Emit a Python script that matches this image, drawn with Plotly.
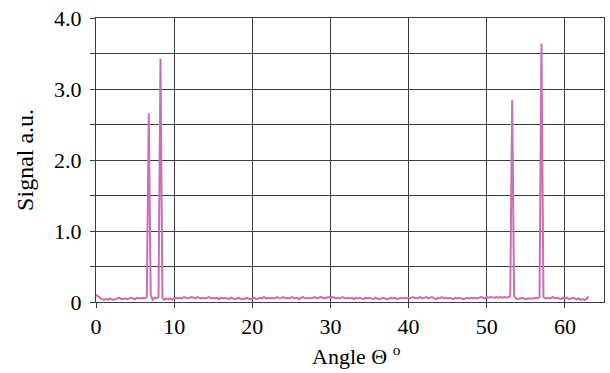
import numpy as np
import plotly.graph_objects as go

# Sampling grid of the scan (degrees), 0.25 deg steps from 0 to 63
angle_start = 0.0
angle_step = 0.25
n_points = 253
angles = angle_start + angle_step * np.arange(n_points)

# Signal values (rows of 10 samples = 2.5 deg each)
signal = [
    0.10, 0.08, 0.05, 0.04, 0.03, 0.04, 0.03, 0.05, 0.04, 0.03,
    0.04, 0.05, 0.06, 0.04, 0.05, 0.05, 0.04, 0.05, 0.06, 0.05,
    0.04, 0.06, 0.05, 0.05, 0.06, 0.05, 0.07, 2.66, 0.10, 0.03,
    0.06, 0.05, 0.07, 3.43, 0.06, 0.03, 0.05, 0.04, 0.05, 0.03,
    0.05, 0.06, 0.05, 0.06, 0.05, 0.07, 0.06, 0.05, 0.06, 0.07,
    0.06, 0.05, 0.07, 0.06, 0.05, 0.06, 0.05, 0.06, 0.07, 0.05,
    0.06, 0.05, 0.06, 0.04, 0.06, 0.05, 0.06, 0.05, 0.04, 0.06,
    0.05, 0.04, 0.05, 0.06, 0.04, 0.05, 0.04, 0.06, 0.05, 0.04,
    0.05, 0.06, 0.04, 0.05, 0.06, 0.05, 0.07, 0.05, 0.06, 0.05,
    0.06, 0.05, 0.06, 0.07, 0.05, 0.06, 0.07, 0.05, 0.06, 0.05,
    0.07, 0.06, 0.05, 0.06, 0.04, 0.06, 0.07, 0.05, 0.06, 0.05,
    0.05, 0.06, 0.07, 0.05, 0.06, 0.07, 0.06, 0.05, 0.06, 0.07,
    0.06, 0.07, 0.06, 0.05, 0.06, 0.05, 0.07, 0.06, 0.05, 0.06,
    0.05, 0.06, 0.04, 0.06, 0.05, 0.06, 0.05, 0.04, 0.06, 0.05,
    0.06, 0.05, 0.04, 0.06, 0.05, 0.04, 0.05, 0.06, 0.05, 0.04,
    0.05, 0.06, 0.05, 0.06, 0.04, 0.05, 0.06, 0.05, 0.06, 0.05,
    0.06, 0.05, 0.07, 0.06, 0.05, 0.06, 0.07, 0.05, 0.06, 0.07,
    0.05, 0.06, 0.07, 0.05, 0.04, 0.06, 0.05, 0.07, 0.05, 0.06,
    0.05, 0.06, 0.05, 0.04, 0.06, 0.05, 0.06, 0.05, 0.04, 0.05,
    0.06, 0.05, 0.06, 0.05, 0.06, 0.05, 0.06, 0.07, 0.06, 0.05,
    0.07, 0.06, 0.07, 0.06, 0.06, 0.07, 0.06, 0.07, 0.06, 0.07,
    0.06, 0.07, 0.08, 2.84, 0.08, 0.05, 0.04, 0.05, 0.06, 0.05,
    0.04, 0.05, 0.05, 0.04, 0.05, 0.06, 0.05, 0.07, 3.64, 0.07,
    0.05, 0.06, 0.05, 0.06, 0.07, 0.05, 0.06, 0.05, 0.04, 0.06,
    0.05, 0.06, 0.04, 0.05, 0.06, 0.05, 0.04, 0.05, 0.03, 0.04,
    0.03, 0.04, 0.08,
]

x_ticks = [0, 10, 20, 30, 40, 50, 60]
y_tickvals = [0, 1, 2, 3, 4]
y_ticktext = ["0", "1.0", "2.0", "3.0", "4.0"]
x_title = "Angle Θ <sup>o</sup>"
y_title = "Signal a.u."

FONT = "Liberation Serif"
GRID = "#3c3c3c"
LINE_COLOR = "#CC6DB6"
FS = 22

fig = go.Figure()
fig.add_trace(go.Scatter(
    x=angles, y=signal, mode="lines",
    line=dict(color=LINE_COLOR, width=2),
    showlegend=False,
))

fig.update_layout(
    width=610, height=373,
    margin=dict(l=96, r=6, t=18, b=71),
    paper_bgcolor="white", plot_bgcolor="white",
    font=dict(family=FONT, size=FS, color="black"),
)
fig.update_xaxes(
    range=[0, 65], tickvals=x_ticks,
    ticks="outside", ticklen=5, tickcolor=GRID,
    showgrid=True, gridcolor=GRID, gridwidth=1,
    showline=True, linecolor=GRID, linewidth=1, mirror=True,
    zeroline=False, automargin=False,
    tickfont=dict(family=FONT, size=FS, color="black"),
)
fig.update_yaxes(
    range=[0, 4], tickvals=y_tickvals, ticktext=y_ticktext,
    ticks="outside", ticklen=5, tickcolor=GRID,
    showgrid=True, gridcolor=GRID, gridwidth=1,
    minor=dict(dtick=0.5, tick0=0, ticks="outside", ticklen=5,
               tickcolor=GRID, showgrid=True, gridcolor=GRID, gridwidth=1),
    showline=True, linecolor=GRID, linewidth=1, mirror=True,
    zeroline=False, automargin=False,
    ticklabelstandoff=4,
    tickfont=dict(family=FONT, size=FS, color="black"),
)

# Axis titles placed as annotations for exact positioning
fig.add_annotation(
    text=x_title, xref="paper", yref="paper",
    x=0.512, y=-0.185, xanchor="center", yanchor="middle",
    showarrow=False, font=dict(family=FONT, size=FS, color="black"),
)
fig.add_annotation(
    text=y_title, xref="paper", yref="paper",
    x=-0.14, y=0.5, xanchor="center", yanchor="middle",
    textangle=-90, showarrow=False,
    font=dict(family=FONT, size=24, color="black"),
)

fig.write_html(
    "out.html",
    config={"displayModeBar": False},
    post_script="document.body.style.margin='0';document.body.style.padding='0';",
)
